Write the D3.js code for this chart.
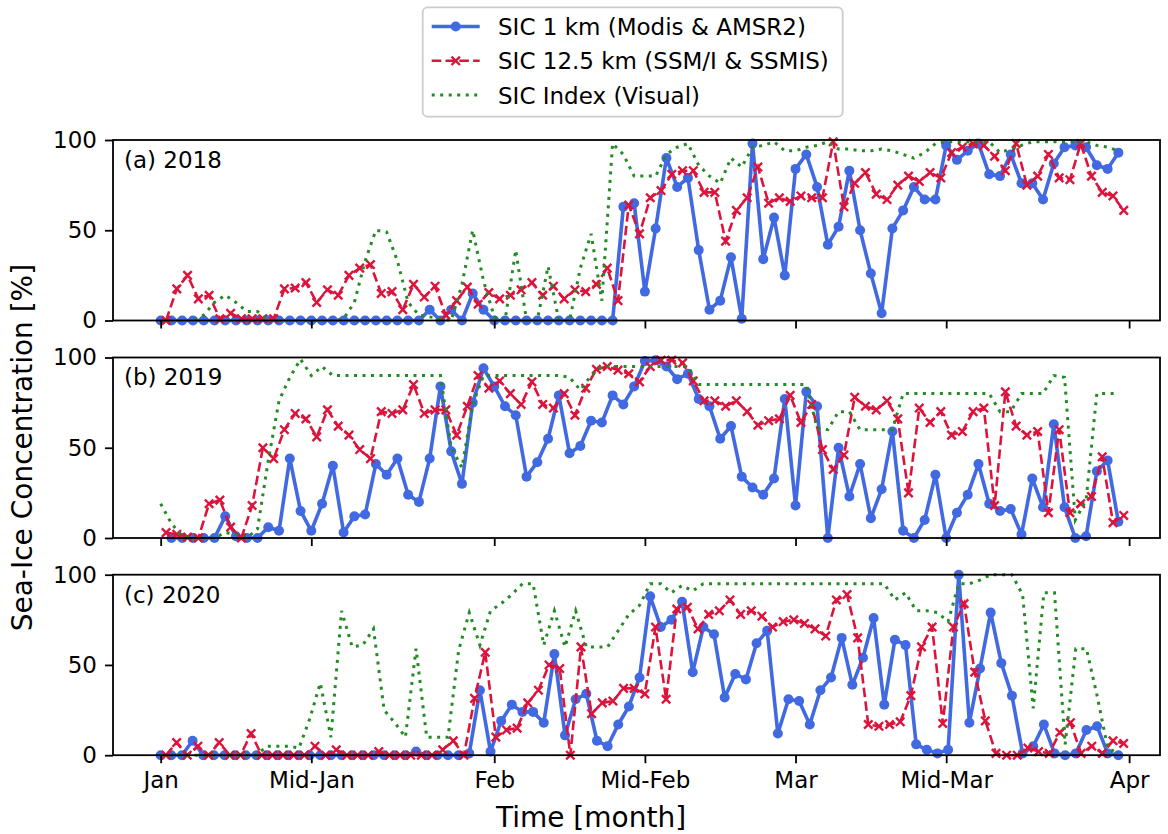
<!DOCTYPE html>
<html>
<head>
<meta charset="utf-8">
<script src="https://cdn.jsdelivr.net/npm/d3@7"></script>
<style>
  body { margin: 0; background: #fff; }
  svg { display: block; font-family: "DejaVu Sans", sans-serif; }
</style>
</head>
<body>
<svg id="chart" width="1168" height="834"></svg>
<script>
// day offsets of the month ticks (Jan 1 = 0)
const tickDays = [0, 14, 31, 45, 59, 73, 90];
const tickLabels = ["Jan", "Mid-Jan", "Feb", "Mid-Feb", "Mar", "Mid-Mar", "Apr"];
const seriesNames = ["SIC 1 km (Modis & AMSR2)", "SIC 12.5 km (SSM/I & SSMIS)", "SIC Index (Visual)"];
const panelTitles = ["(a) 2018", "(b) 2019", "(c) 2020"];

// 2018
const sic1km2018 = [0,0,0,0,0,0,0,0,0,0, 0,0,0,0,0,0,0,0,0,0, 0,0,0,0,0,6,0,6,0,15,
  6,0,0,0,0,0,0,0,0,0, 0,0,0,63,65,16,51,90,74,79, 39,6,11,35,1,98,34,57,25,84,
  92,74,42,52,83,50,26,4,51,61, 74,67,67,97,89,94,98,81,80,92, 76,76,67,87,96,97,96,86,84,93];
const sic125km2018 = [0,17.5,25,12,14,1,4,1,1,1, 1,17.5,18,21,10,17,14,25,29,31, 15,16,6,20,13,19,3,11,18.5,9,
  15.5,12,14,17,21,14,19,12,17,16, 20,29,11,64,48,68,72,81,83,83, 71,71,44,61,68,85,65,68,66,69,
  68,68,99,63,76,82,70,67,75,80, 77,82,79,93,96,98,97,91,83,98, 75,80,92,79,78,98,80,71,69,61];
const sicIndex2018 = [0,0,0,0,3,10,14,10,5,5, 0,0,0,0,0,0,0,1,10,33, 50,49,33,10,3,2,1,0,20,50,
  22,2,0,39,0,0,30,0,0,29, 48,11,98,92,80,80,80,92,96,98, 86,80,76,90,85,96,97,99,94,94,
  96,97,99,95,95,94,94,95,94,92, 90,93,98,99,99,99,99,99,93,95, 97,99,99,99,99,99,99,97,96,94];

// 2019
const sic1km2019 = [null,0,0,0,0,0,12,1,0,0, 6,4,44,15,4,19,40,3,12,13, 41,35,44,24,20,44,84,48,30,75,
  94,84,73,68,34,42,55,79,47,51, 65,64,79,74,84,98,98.5,95,88,91, 77,73,55,62,34,28,24,33,77,18,
  81,73,0,50,23,41,11,27,59,4, 0,10,35,0,14,24,41,19,15,16, 2,33,17,63,17,0,1,37,43,9];
const sic125km2019 = [3,2,0.5,0,19,21,6,0,18,50, 44,60,69,66,56,71,62,57,49,44, 70,69,71,85,69,71,71,57,73,90,
  83,87,80,74,86.5,74,72,80,68,83, 93.5,95,93,91,86.5,95,98.5,98.5,97,87, 76,76,73,76,70,62.5,65,66,79,64,
  74,49,38,46,78,73,71,76,66,25, 72,64,70,57,59,70,72,18,81,62, 57,59,14,60,14,19,23,45,8.5,12.5];
const sicIndex2019 = [19,8,1,0,0,0,3,2,0,5, 43,76,89,99,90,95,90,90,90,90, 90,90,90,90,90,90,90,50,39,74,
  90,90,90,90,90,90,90,90,89,82, 90,95,95,95,95,95,95,95,95,95, 85,85,85,85,85,85,85,85,85,85,
  85,61,60,70,70,60,60,60,60,80, 80,80,80,80,80,80,80,80,70,70, 80,80,80,90,89,10,21,80,80,80];

// 2020 (91 daily values)
const sic1km2020 = [0,0,0,8,0,0,0,0,0,0, 0,0,0,0,0,0,0,0,0,0, 0,0,0,0,2,0,0,0,0,1,
  36,2,19,28,24,24,18,56,11,31, 34,8,5,17,27,43,88,71,75,85, 46,71,67,32,45,42,62,69,12,31,
  30,17,36,43,65,39,54,76,28,64, 61,6,3,1,3,100,18,48,79,51, 33,1,5,17,1,0,1,14,16,1, 0];
const sic125km2020 = [0,7,0,5,0,7,0,0,12,0, 0,0,0,0,5,0,3,0,0,0, 2,0,0,0,0,0,3,8,0,31.5,
  57,10,14,15,29,36,50,48,0,60, 23,29,30,37,37,34,71,31,81,82, 70,78,80,86,78,80,77,71,74,75,
  73,70,66,86,89,65,17,16,17,18.5, 33,60,71,17.6,71,84,46,19,1,0, 0,4,2,1,12.6,18,1,5,1,8, 6.5];
const sicIndex2020 = [0,0,0,0,0,0,0,0,0,0, 5,5,5,4,20,40,10,80,60,61, 70,25,18,10,59,10,10,10,58,79,
  61,80,84,89,95,95,61,80,60,80, 60,60,60,69,78,83,95,95,90,94, 91,95,95,95,95,95,95,95,95,95,
  95,95,95,95,95,95,95,95,95,86, 90,80,80,79,74,95,95,97,100,100, 100,89,26,90,90,6,59,59,33,4, 1];

const years = [
  { title: panelTitles[0], blue: sic1km2018, red: sic125km2018, green: sicIndex2018 },
  { title: panelTitles[1], blue: sic1km2019, red: sic125km2019, green: sicIndex2019 },
  { title: panelTitles[2], blue: sic1km2020, red: sic125km2020, green: sicIndex2020 }
];

const colors = { blue: "#4169e1", red: "#dc143c", green: "#228b22" };
const fontSize = 23, labelSize = 28;

const svg = d3.select("#chart");
const left = 113, right = 1160;
const panelTops = [140, 357.5, 574.7];
const panelH = 180.5;

// every season spans Jan 1 .. Mar 31 on the shared axis
const lastDay = 89;
const x = d3.scaleLinear().domain([-4.43, 92.87]).range([left, right]);

const cross = (cx, cy, s) =>
  `M${cx - s},${cy - s}L${cx + s},${cy + s}M${cx - s},${cy + s}L${cx + s},${cy - s}`;

years.forEach((yr, p) => {
  const top = panelTops[p];
  const y = d3.scaleLinear().domain([0, 100]).range([top + panelH, top]);
  const g = svg.append("g");

  const step = lastDay / (yr.blue.length - 1);
  const dayOf = (i, shift) => (i + shift) * step;

  const clipId = "clip" + p;
  g.append("clipPath").attr("id", clipId)
    .append("rect").attr("x", left).attr("y", top - 6).attr("width", right - left).attr("height", panelH + 12);

  const plot = g.append("g").attr("clip-path", `url(#${clipId})`);

  const line = shift => d3.line()
    .defined(d => d != null)
    .x((d, i) => x(dayOf(i, shift)))
    .y(d => y(d));

  // blue: 1 km
  plot.append("path")
    .attr("d", line(0)(yr.blue))
    .attr("fill", "none")
    .attr("stroke", colors.blue)
    .attr("stroke-width", 3.6)
    .attr("stroke-linejoin", "round");
  plot.selectAll(".dot")
    .data(yr.blue.map((v, i) => ({ v, i })).filter(d => d.v != null))
    .join("circle")
    .attr("cx", d => x(dayOf(d.i, 0)))
    .attr("cy", d => y(d.v))
    .attr("r", 5)
    .attr("fill", colors.blue);

  // red: 12.5 km, sampled half a day later
  plot.append("path")
    .attr("d", line(0.5)(yr.red))
    .attr("fill", "none")
    .attr("stroke", colors.red)
    .attr("stroke-width", 2.6)
    .attr("stroke-dasharray", "9.6,4.2");
  plot.selectAll(".cross")
    .data(yr.red.map((v, i) => ({ v, i })))
    .join("path")
    .attr("d", d => cross(x(dayOf(d.i, 0.5)), y(d.v), 4.2))
    .attr("stroke", colors.red)
    .attr("stroke-width", 2.4);

  // green: visual index
  plot.append("path")
    .attr("d", line(0)(yr.green))
    .attr("fill", "none")
    .attr("stroke", colors.green)
    .attr("stroke-width", 3)
    .attr("stroke-dasharray", "3,5.5");

  // axes
  const xAxis = g.append("g")
    .attr("transform", `translate(0,${top + panelH})`)
    .call(d3.axisBottom(x).tickValues(tickDays).tickSize(8).tickPadding(8)
      .tickFormat((d, i) => p === 2 ? tickLabels[i] : ""));
  xAxis.select(".domain").remove();
  xAxis.selectAll("line").attr("stroke", "#000").attr("stroke-width", 1.8);
  xAxis.selectAll("text").attr("font-size", fontSize).attr("font-family", "DejaVu Sans").attr("fill", "#000");

  const yAxis = g.append("g")
    .attr("transform", `translate(${left},0)`)
    .call(d3.axisLeft(y).tickValues([0, 50, 100]).tickSize(8).tickPadding(8));
  yAxis.select(".domain").remove();
  yAxis.selectAll("line").attr("stroke", "#000").attr("stroke-width", 1.8);
  yAxis.selectAll("text").attr("font-size", fontSize).attr("font-family", "DejaVu Sans").attr("fill", "#000");

  g.append("rect")
    .attr("x", left).attr("y", top)
    .attr("width", right - left).attr("height", panelH)
    .attr("fill", "none").attr("stroke", "#000").attr("stroke-width", 1.8);

  g.append("text")
    .attr("x", left + 11).attr("y", top + 27.8)
    .attr("font-size", fontSize)
    .text(yr.title);
});

svg.append("text")
  .attr("x", 591).attr("y", 827)
  .attr("text-anchor", "middle")
  .attr("font-size", labelSize)
  .text("Time [month]");

svg.append("text")
  .attr("transform", `translate(32,${(panelTops[0] + panelTops[2] + panelH) / 2}) rotate(-90)`)
  .attr("text-anchor", "middle")
  .attr("font-size", labelSize)
  .text("Sea-Ice Concentration [%]");

// legend
const lg = svg.append("g");
lg.append("rect")
  .attr("x", 422.7).attr("y", 7.3).attr("width", 420).attr("height", 109.4)
  .attr("rx", 5).attr("fill", "#fff").attr("stroke", "#cccccc").attr("stroke-width", 1.8);
const rowBase = [35, 69.3, 103.5];
const keys = ["blue", "red", "green"];
keys.forEach((k, i) => {
  const cy = rowBase[i] - 8.5;
  const h = lg.append("g");
  const ln = h.append("line")
    .attr("x1", 431.7).attr("x2", 479.7).attr("y1", cy).attr("y2", cy)
    .attr("stroke", colors[k]);
  if (k === "blue") {
    ln.attr("stroke-width", 3.6);
    h.append("circle").attr("cx", 455.7).attr("cy", cy).attr("r", 5).attr("fill", colors.blue);
  } else if (k === "red") {
    ln.attr("stroke-width", 2.6).attr("stroke-dasharray", "9.6,4.2");
    h.append("path")
      .attr("d", cross(455.7, cy, 4.2))
      .attr("stroke", colors.red).attr("stroke-width", 2.4);
  } else {
    ln.attr("stroke-width", 3).attr("stroke-dasharray", "3,5.5");
  }
  lg.append("text")
    .attr("x", 498).attr("y", rowBase[i])
    .attr("font-size", fontSize)
    .text(seriesNames[i]);
});
</script>
</body>
</html>
